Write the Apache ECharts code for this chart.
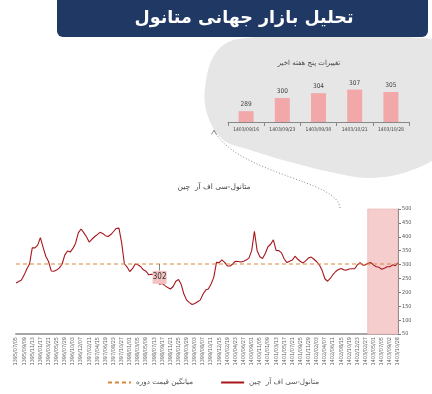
<!DOCTYPE html>
<html>
<head>
<meta charset="utf-8">
<script src="https://cdn.jsdelivr.net/npm/echarts@6/dist/echarts.min.js"></script>
<style>
html,body{margin:0;padding:0;background:#fff;}
#c{width:432px;height:394px;}
</style>
</head>
<body>
<div id="c"></div>
<script>
// ---- data ----
const tickLabels = [
 '1395/07/05','1395/09/09','1395/11/13','1396/01/17','1396/03/21','1396/05/25','1396/07/29','1396/10/03',
 '1396/12/07','1397/02/11','1397/04/15','1397/06/19','1397/08/23','1397/10/27','1398/01/01','1398/03/05',
 '1398/05/09','1398/07/13','1398/09/17','1398/11/21','1399/01/25','1399/03/29','1399/06/03','1399/08/07',
 '1399/10/11','1399/12/15','1400/02/19','1400/04/23','1400/06/27','1400/09/01','1400/11/05','1401/01/09',
 '1401/03/13','1401/05/17','1401/07/21','1401/09/25','1401/11/29','1402/02/03','1402/04/07','1402/06/11',
 '1402/08/15','1402/10/19','1402/12/23','1403/02/27','1403/05/01','1403/07/05','1403/09/02','1403/10/28'
];
const prices = [
 234,239,244,262,284,302,360,360,370,397,362,330,311,277,276,280,288,301,334,349,
 345,358,377,414,428,415,400,381,391,400,408,416,412,404,401,408,419,430,431,378,
 303,291,275,285,302,299,293,281,276,263,265,264,245,229,232,224,217,212,221,240,
 246,228,193,172,163,156,160,166,172,193,208,212,230,254,308,307,317,308,295,295,
 302,312,311,309,312,316,324,350,420,350,328,322,340,364,373,389,351,350,342,320,
 307,312,316,330,319,311,306,314,324,327,319,310,298,279,249,240,250,264,275,282,
 286,281,280,284,285,285,299,307,298,299,305,307,298,292,290,283,287,292,292,299,
 296,306
];
const avgPrice = 302;
const shadeRange = [129.8, 141];
const calloutIndex = 53;
const weekLabels = ['1403/09/16','1403/09/23','1403/09/30','1403/10/21','1403/10/28'];
const weekValues = [289, 300, 304, 307, 305];

const mainName = 'متانول-سی اف آر  چین';
const avgName = 'میانگین قیمت دوره';
const FA = 'DejaVu Sans';
const NARROW = '"Liberation Sans Narrow","DejaVu Sans Condensed",sans-serif';

const chart = echarts.init(document.getElementById('c'), null, {renderer:'canvas'});
const lastIdx = prices.length - 1;

chart.setOption({
  animation: false,
  backgroundColor: '#fff',
  graphic: [
    {type:'polygon', z:-10, shape:{smooth:0.35, points:[[238,39],[330,34],[420,38],[440,44],[440,150],[412,170],[370,178],[330,172],[290,162],[250,150],[222,139],[206,110],[207,75],[218,50]]},
     style:{fill:'#e6e6e6'}},
    {type:'rect', z:-5, shape:{x:57, y:-8, width:371, height:45, r:6}, style:{fill:'#1f3864'}},
    {type:'text', z:-4, x:244, y:18, style:{text:'تحلیل بازار جهانی متانول', fill:'#fff', font:'bold 17.5px "DejaVu Sans"', align:'center', verticalAlign:'middle'}},
    {type:'text', x:309, y:63, style:{text:'تغییرات پنج هفته اخیر', fill:'#444', font:'7px "DejaVu Sans"', align:'center', verticalAlign:'middle'}},
    {type:'text', x:214, y:187, style:{text:mainName, fill:'#444', font:'7.5px "DejaVu Sans"', align:'center', verticalAlign:'middle'}},
    {type:'bezierCurve', shape:{x1:340, y1:208, cpx1:338, cpy1:180, cpx2:240, cpy2:175, x2:214, y2:131},
     style:{stroke:'#8a8a8a', lineWidth:1, lineDash:[1,2], fill:null}},
    {type:'polyline', shape:{points:[[211.5,134.5],[214,130],[216.5,134.5]]}, style:{stroke:'#777', lineWidth:0.8, fill:null}}
  ],
  legend: {
    left: 102, top: 374, itemWidth: 23, itemHeight: 8, itemGap: 27,
    itemStyle: {opacity: 0},
    data: [avgName, mainName],
    textStyle: {fontFamily: FA, fontSize: 7.2, color: '#555'}
  },
  grid: [
    {left: 16, right: 34, top: 209, bottom: 60},
    {left: 228, right: 23, top: 80, bottom: 272}
  ],
  xAxis: [
    {type:'value', gridIndex:0, min:0, max:lastIdx, interval:3,
     axisLine:{show:true, lineStyle:{color:'#a6a6a6', width:2}},
     axisTick:{show:false}, splitLine:{show:false},
     axisLabel:{rotate:90, fontSize:5.5, color:'#666', margin:3, fontFamily:NARROW,
       showMinLabel:true, showMaxLabel:true,
       formatter: v => tickLabels[Math.round(v/3)] || ''}},
    {type:'category', gridIndex:1, data: weekLabels,
     axisLine:{show:true, lineStyle:{color:'#888', width:1}},
     axisTick:{show:true, length:4, lineStyle:{color:'#888'}},
     axisLabel:{interval:0, fontSize:5, color:'#444', margin:5, fontFamily:NARROW}}
  ],
  yAxis: [
    {type:'value', gridIndex:0, position:'right', min:50, max:500, interval:50,
     axisLine:{show:true, onZero:false, lineStyle:{color:'#777', width:1}},
     axisTick:{show:true, length:3, lineStyle:{color:'#777'}},
     splitLine:{show:false},
     axisLabel:{fontSize:5.5, color:'#555', margin:4, fontFamily:NARROW}},
    {type:'value', gridIndex:1, min:280, max:315, show:false}
  ],
  series: [
    {type:'line', name:'shade', xAxisIndex:0, yAxisIndex:0, z:1, data:[], silent:true,
     markArea:{silent:true, itemStyle:{color:'#f6cdcd', borderColor:'#e9b1b1', borderWidth:0.6},
       data:[[{xAxis:shadeRange[0]},{xAxis:shadeRange[1]}]]}},
    {type:'line', name:mainName, xAxisIndex:0, yAxisIndex:0, z:3, symbol:'none',
     data: prices.map((v,i)=>[i,v]),
     lineStyle:{color:'#a8161c', width:1.1}, itemStyle:{color:'#a8161c'}},
    {type:'line', name:avgName, xAxisIndex:0, yAxisIndex:0, z:4, symbol:'none',
     data: [[0,avgPrice],[lastIdx,avgPrice]],
     lineStyle:{color:'#d4893a', width:1, type:[4,3]}, itemStyle:{color:'#d4893a'},
     markLine:{silent:true, symbol:'none', label:{show:false},
       lineStyle:{color:'#555', width:0.7, type:'solid'},
       data:[[{coord:[calloutIndex,avgPrice]},{coord:[calloutIndex,278]}]]},
     markPoint:{silent:true, symbol:'rect', symbolSize:[14,13],
       itemStyle:{color:'#f4c2c2'},
       label:{show:true, formatter: String(avgPrice), fontSize:8, color:'#333', fontFamily:NARROW},
       data:[{coord:[calloutIndex,254]}]}},
    {type:'bar', name:'weeks', xAxisIndex:1, yAxisIndex:1, data: weekValues, barWidth:15,
     itemStyle:{color:'#f2a7a9'},
     label:{show:true, position:'top', distance:3, fontSize:6.5, color:'#444', fontFamily:NARROW}}
  ]
});
</script>
</body>
</html>
